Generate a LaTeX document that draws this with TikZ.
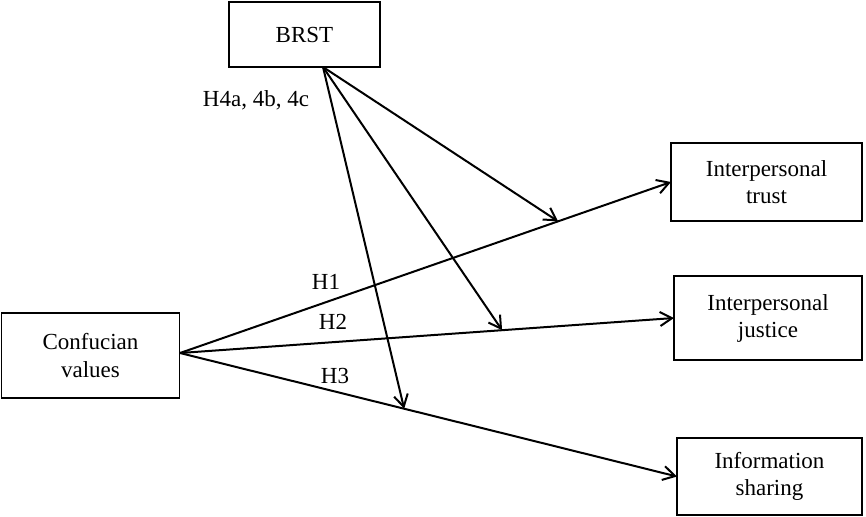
\documentclass[tikz,border=0pt]{standalone}
\usepackage{fontspec}
\setmainfont{Liberation Serif}
\usetikzlibrary{arrows.meta,calc}
\begin{document}
\begin{tikzpicture}[x=0.5pt,y=-0.5pt,
  box/.style={draw,line width=0.75pt,inner sep=0pt,outer sep=0pt,align=center,
    font=\fontsize{11.5}{13.5}\selectfont},
  lbl/.style={inner sep=0pt,font=\fontsize{11.5}{13.5}\selectfont},
  arr/.style={line width=1pt,-{Straight Barb[length=6pt,width=7pt,line width=1pt]}}]
\useasboundingbox (0,0) rectangle (866,516);
\node[box,minimum width=75.5pt,minimum height=32.5pt] (brst) at (304.5,34.5) {BRST};
\node[box,minimum width=89pt,minimum height=42.5pt] (conf) at (90.5,355.5) {Confucian\\values};
\node[box,minimum width=95.5pt,minimum height=39pt] (trust) at (766.5,182) {Interpersonal\\trust};
\node[box,minimum width=94pt,minimum height=42pt] (just) at (768,318) {Interpersonal\\justice};
\node[box,minimum width=92.5pt,minimum height=38.5pt] (share) at (769.5,476.5) {Information\\sharing};
\coordinate (src) at (180,353);
\coordinate (b) at (323,67);
\draw[arr] (src) -- (trust.west);
\draw[arr] (src) -- (just.west);
\draw[arr] (src) -- (share.west);
\coordinate (m1) at ($(src)!0.77!(trust.west)$);
\coordinate (m2) at ($(src)!0.652!(just.west)$);
\coordinate (m3) at ($(src)!0.451!(share.west)$);
\draw[arr] (b) -- (m1);
\draw[arr] (b) -- (m2);
\draw[arr] (b) -- (m3);
\node[lbl] (h4) at (256,100) {H4a, 4b, 4c};
\node[lbl] (h1) at (326,282) {H1};
\node[lbl] (h2) at (333,322) {H2};
\node[lbl] (h3) at (335,376) {H3};
\end{tikzpicture}
\end{document}
